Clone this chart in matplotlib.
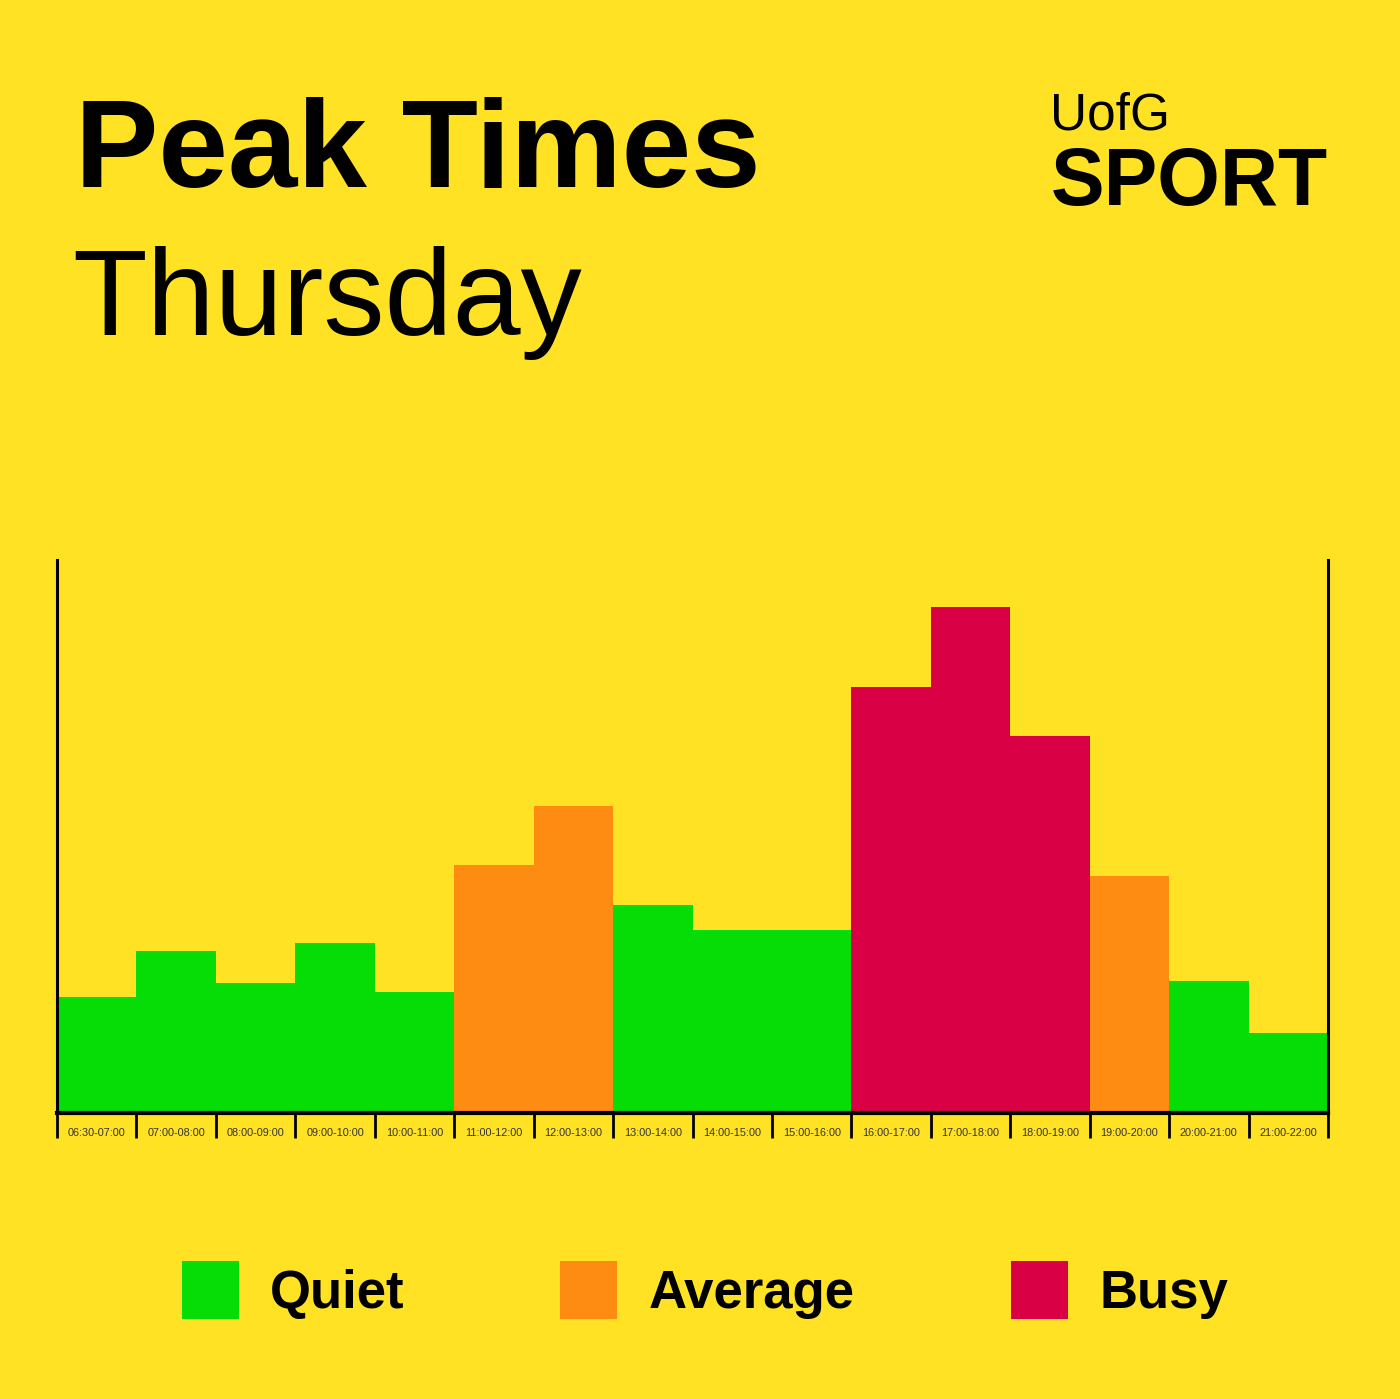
import numpy as np
import matplotlib
matplotlib.use('Agg')
import matplotlib.pyplot as plt
from matplotlib.patches import Patch

# Dados do gráfico
faixas = ['06:30-07:00', '07:00-08:00', '08:00-09:00', '09:00-10:00', '10:00-11:00',
          '11:00-12:00', '12:00-13:00', '13:00-14:00', '14:00-15:00', '15:00-16:00',
          '16:00-17:00', '17:00-18:00', '18:00-19:00', '19:00-20:00', '20:00-21:00',
          '21:00-22:00']
ocupacao = [116, 162, 130, 170, 121, 248, 307, 208, 183, 183, 426, 506, 377, 237, 132, 80]
nivel = ['Quiet', 'Quiet', 'Quiet', 'Quiet', 'Quiet', 'Average', 'Average', 'Quiet',
         'Quiet', 'Quiet', 'Busy', 'Busy', 'Busy', 'Average', 'Quiet', 'Quiet']
niveis_legenda = ['Quiet', 'Average', 'Busy']

cores = {'Quiet': '#06DC06', 'Average': '#FF8C12', 'Busy': '#DA0046'}
fundo = '#FFE224'

plt.rcParams['font.family'] = ['Liberation Sans', 'DejaVu Sans']

fig = plt.figure(figsize=(14, 13.99), dpi=100, facecolor=fundo)
ax = fig.add_axes([57 / 1400, 1 - 1113 / 1399, (1328 - 57) / 1400, (1113 - 560) / 1399])
ax.set_facecolor(fundo)

x = np.arange(len(faixas))
ax.bar(x, ocupacao, width=1.0, align='edge', color=[cores[n] for n in nivel], linewidth=0)

ax.set_xlim(0, len(faixas))
ax.set_ylim(0, 553)

# Spines
ax.spines['top'].set_visible(False)
for lado in ['left', 'right']:
    ax.spines[lado].set_linewidth(2.2)
ax.spines['bottom'].set_linewidth(3)
ax.set_yticks([])

# Ticks nas divisões, rótulos no centro
ax.set_xticks(np.arange(len(faixas) + 1))
ax.set_xticklabels([])
ax.tick_params(axis='x', which='major', direction='out', length=18, width=2)
ax.set_xticks(x + 0.5, minor=True)
ax.set_xticklabels(faixas, minor=True, fontsize=7.8, color='#333333')
ax.tick_params(axis='x', which='minor', length=0, pad=11)

# Títulos
fig.text(75 / 1400, 1 - 187 / 1399, 'Peak Times', fontsize=90, fontweight='bold',
         ha='left', va='baseline')
fig.text(72 / 1400, 1 - 335 / 1399, 'Thursday', fontsize=88, ha='left', va='baseline')
fig.text(1050 / 1400, 1 - 130 / 1399, 'UofG', fontsize=37, ha='left', va='baseline')
fig.text(1328 / 1400, 1 - 205 / 1399, 'SPORT', fontsize=58, fontweight='bold',
         ha='right', va='baseline')

# Legenda
handles = [Patch(facecolor=cores[n], edgecolor='none') for n in niveis_legenda]
leg = fig.legend(handles, niveis_legenda, loc='center', ncol=3,
                 bbox_to_anchor=(705 / 1400, 1 - 1290 / 1399), frameon=False,
                 prop={'size': 38, 'weight': 'bold'}, handlelength=1.08,
                 handleheight=1.3, handletextpad=0.6, columnspacing=2.95)

plt.savefig('out.png', dpi=100, facecolor=fundo)
